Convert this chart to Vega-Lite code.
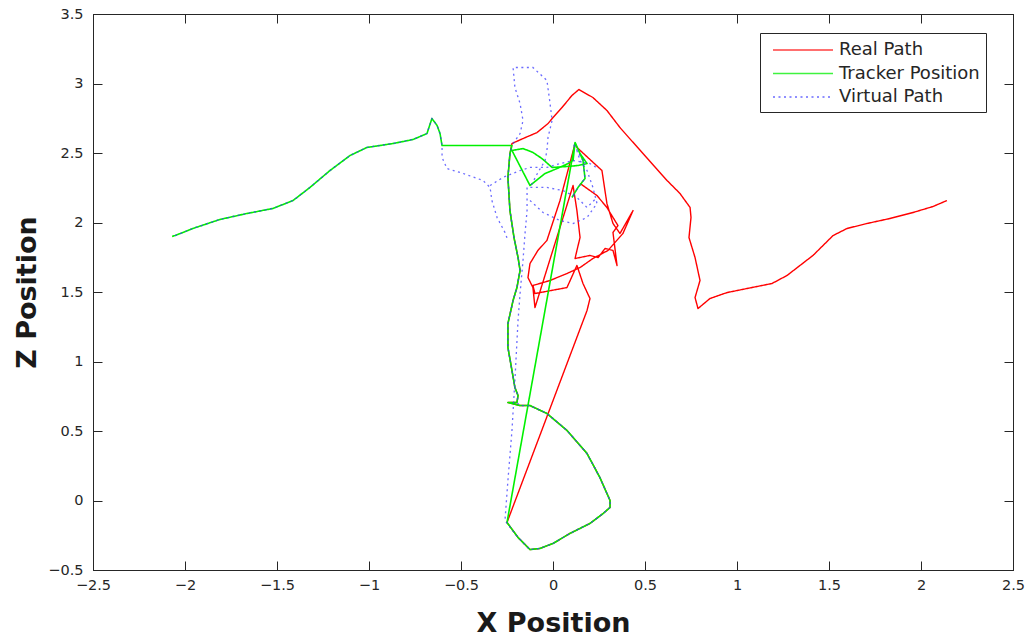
{
  "$schema": "https://vega.github.io/schema/vega-lite/v6.json",
  "width": 920,
  "height": 556,
  "autosize": {"type": "none"},
  "padding": {"left": 93, "top": 14, "right": 20, "bottom": 71},
  "background": "white",
  "config": {
    "view": {"stroke": "#262626", "strokeWidth": 1},
    "axis": {
      "grid": false,
      "domainColor": "#262626",
      "tickColor": "#262626",
      "tickSize": -9,
      "labelFont": "DejaVu Sans",
      "labelFontSize": 14.5,
      "labelColor": "#262626",
      "titleFont": "DejaVu Sans",
      "titleFontSize": 27,
      "titleFontWeight": "bold",
      "titleColor": "#1a1a1a"
    },
    "legend": {
      "orient": "none",
      "legendX": 667,
      "legendY": 19,
      "labelFont": "DejaVu Sans",
      "labelFontSize": 18,
      "labelColor": "#262626",
      "symbolType": "M-0.4,0H5.6",
      "symbolSize": 400,
      "symbolStrokeWidth": 1.5,
      "symbolFillColor": "transparent",
      "labelOffset": 51,
      "rowPadding": 3.5,
      "padding": 6,
      "fillColor": "white",
      "strokeColor": "#262626",
      "labelLimit": 400
    }
  },
  "data": {
    "values": [
      {"s":"Real Path","g":"r1","i":1,"x":2.141,"z":2.158},
      {"s":"Real Path","g":"r1","i":2,"x":2.065,"z":2.115},
      {"s":"Real Path","g":"r1","i":3,"x":1.957,"z":2.072},
      {"s":"Real Path","g":"r1","i":4,"x":1.832,"z":2.029},
      {"s":"Real Path","g":"r1","i":5,"x":1.707,"z":1.993},
      {"s":"Real Path","g":"r1","i":6,"x":1.598,"z":1.957},
      {"s":"Real Path","g":"r1","i":7,"x":1.522,"z":1.906},
      {"s":"Real Path","g":"r1","i":8,"x":1.413,"z":1.763},
      {"s":"Real Path","g":"r1","i":9,"x":1.272,"z":1.619},
      {"s":"Real Path","g":"r1","i":10,"x":1.190,"z":1.561},
      {"s":"Real Path","g":"r1","i":11,"x":1.054,"z":1.525},
      {"s":"Real Path","g":"r1","i":12,"x":0.946,"z":1.496},
      {"s":"Real Path","g":"r1","i":13,"x":0.853,"z":1.453},
      {"s":"Real Path","g":"r1","i":14,"x":0.788,"z":1.381},
      {"s":"Real Path","g":"r1","i":15,"x":0.772,"z":1.460},
      {"s":"Real Path","g":"r1","i":16,"x":0.799,"z":1.583},
      {"s":"Real Path","g":"r1","i":17,"x":0.772,"z":1.748},
      {"s":"Real Path","g":"r1","i":18,"x":0.739,"z":1.892},
      {"s":"Real Path","g":"r1","i":19,"x":0.750,"z":2.036},
      {"s":"Real Path","g":"r1","i":20,"x":0.745,"z":2.108},
      {"s":"Real Path","g":"r1","i":21,"x":0.690,"z":2.209},
      {"s":"Real Path","g":"r1","i":22,"x":0.620,"z":2.302},
      {"s":"Real Path","g":"r1","i":23,"x":0.489,"z":2.496},
      {"s":"Real Path","g":"r1","i":24,"x":0.364,"z":2.683},
      {"s":"Real Path","g":"r1","i":25,"x":0.293,"z":2.806},
      {"s":"Real Path","g":"r1","i":26,"x":0.217,"z":2.899},
      {"s":"Real Path","g":"r1","i":27,"x":0.141,"z":2.957},
      {"s":"Real Path","g":"r1","i":28,"x":0.103,"z":2.914},
      {"s":"Real Path","g":"r1","i":29,"x":0.049,"z":2.827},
      {"s":"Real Path","g":"r1","i":30,"x":0.000,"z":2.755},
      {"s":"Real Path","g":"r1","i":31,"x":-0.027,"z":2.712},
      {"s":"Real Path","g":"r1","i":32,"x":-0.087,"z":2.647},
      {"s":"Real Path","g":"r1","i":33,"x":-0.163,"z":2.604},
      {"s":"Real Path","g":"r1","i":34,"x":-0.223,"z":2.568},
      {"s":"Real Path","g":"r1","i":35,"x":-0.234,"z":2.496},
      {"s":"Real Path","g":"r1","i":36,"x":-0.245,"z":2.324},
      {"s":"Real Path","g":"r1","i":37,"x":-0.234,"z":2.086},
      {"s":"Real Path","g":"r1","i":38,"x":-0.212,"z":1.892},
      {"s":"Real Path","g":"r1","i":39,"x":-0.190,"z":1.748},
      {"s":"Real Path","g":"r1","i":40,"x":-0.179,"z":1.655},
      {"s":"Real Path","g":"r1","i":41,"x":-0.196,"z":1.532},
      {"s":"Real Path","g":"r1","i":42,"x":-0.217,"z":1.439},
      {"s":"Real Path","g":"r1","i":43,"x":-0.245,"z":1.273},
      {"s":"Real Path","g":"r1","i":44,"x":-0.245,"z":1.101},
      {"s":"Real Path","g":"r1","i":45,"x":-0.223,"z":0.935},
      {"s":"Real Path","g":"r1","i":46,"x":-0.207,"z":0.813},
      {"s":"Real Path","g":"r1","i":47,"x":-0.190,"z":0.755},
      {"s":"Real Path","g":"r1","i":48,"x":-0.196,"z":0.705},
      {"s":"Real Path","g":"r1","i":49,"x":-0.245,"z":0.705},
      {"s":"Real Path","g":"r1","i":50,"x":-0.179,"z":0.683},
      {"s":"Real Path","g":"r1","i":51,"x":-0.125,"z":0.683},
      {"s":"Real Path","g":"r1","i":52,"x":-0.033,"z":0.626},
      {"s":"Real Path","g":"r1","i":53,"x":0.076,"z":0.504},
      {"s":"Real Path","g":"r1","i":54,"x":0.185,"z":0.338},
      {"s":"Real Path","g":"r1","i":55,"x":0.255,"z":0.165},
      {"s":"Real Path","g":"r1","i":56,"x":0.310,"z":0.000},
      {"s":"Real Path","g":"r1","i":57,"x":0.310,"z":-0.050},
      {"s":"Real Path","g":"r1","i":58,"x":0.272,"z":-0.094},
      {"s":"Real Path","g":"r1","i":59,"x":0.201,"z":-0.165},
      {"s":"Real Path","g":"r1","i":60,"x":0.092,"z":-0.237},
      {"s":"Real Path","g":"r1","i":61,"x":0.000,"z":-0.309},
      {"s":"Real Path","g":"r1","i":62,"x":-0.071,"z":-0.345},
      {"s":"Real Path","g":"r1","i":63,"x":-0.125,"z":-0.353},
      {"s":"Real Path","g":"r1","i":64,"x":-0.190,"z":-0.266},
      {"s":"Real Path","g":"r1","i":65,"x":-0.250,"z":-0.158},
      {"s":"Real Path","g":"r1","i":66,"x":0.185,"z":1.367},
      {"s":"Real Path","g":"r1","i":67,"x":0.201,"z":1.453},
      {"s":"Real Path","g":"r1","i":68,"x":0.163,"z":1.561},
      {"s":"Real Path","g":"r1","i":69,"x":0.130,"z":1.691},
      {"s":"Real Path","g":"r1","i":70,"x":0.076,"z":1.532},
      {"s":"Real Path","g":"r1","i":71,"x":-0.098,"z":1.489},
      {"s":"Real Path","g":"r1","i":72,"x":-0.109,"z":1.547},
      {"s":"Real Path","g":"r1","i":73,"x":-0.016,"z":1.583},
      {"s":"Real Path","g":"r1","i":74,"x":0.076,"z":1.633},
      {"s":"Real Path","g":"r1","i":75,"x":0.147,"z":1.676},
      {"s":"Real Path","g":"r1","i":76,"x":0.217,"z":1.741},
      {"s":"Real Path","g":"r1","i":77,"x":0.299,"z":1.799},
      {"s":"Real Path","g":"r1","i":78,"x":0.380,"z":1.921},
      {"s":"Real Path","g":"r1","i":79,"x":0.435,"z":2.086},
      {"s":"Real Path","g":"r1","i":80,"x":0.364,"z":1.921},
      {"s":"Real Path","g":"r1","i":81,"x":0.326,"z":1.993},
      {"s":"Real Path","g":"r1","i":82,"x":0.293,"z":2.137},
      {"s":"Real Path","g":"r1","i":83,"x":0.266,"z":2.374},
      {"s":"Real Path","g":"r1","i":84,"x":0.130,"z":2.540},
      {"s":"Real Path","g":"r1","i":85,"x":0.120,"z":2.568},
      {"s":"Real Path","g":"r1","i":86,"x":0.038,"z":2.158},
      {"s":"Real Path","g":"r1","i":87,"x":-0.033,"z":1.871},
      {"s":"Real Path","g":"r1","i":88,"x":-0.082,"z":1.799},
      {"s":"Real Path","g":"r1","i":89,"x":-0.125,"z":1.705},
      {"s":"Real Path","g":"r1","i":90,"x":-0.136,"z":1.604},
      {"s":"Real Path","g":"r1","i":91,"x":-0.109,"z":1.532},
      {"s":"Real Path","g":"r1","i":92,"x":-0.098,"z":1.388},
      {"s":"Real Path","g":"r1","i":93,"x":0.109,"z":2.266},
      {"s":"Real Path","g":"r1","i":94,"x":0.130,"z":2.086},
      {"s":"Real Path","g":"r1","i":95,"x":0.147,"z":1.892},
      {"s":"Real Path","g":"r1","i":96,"x":0.130,"z":1.799},
      {"s":"Real Path","g":"r1","i":97,"x":0.120,"z":1.741},
      {"s":"Real Path","g":"r1","i":98,"x":0.201,"z":1.763},
      {"s":"Real Path","g":"r1","i":99,"x":0.245,"z":1.748},
      {"s":"Real Path","g":"r1","i":100,"x":0.283,"z":1.813},
      {"s":"Real Path","g":"r1","i":101,"x":0.326,"z":1.799},
      {"s":"Real Path","g":"r1","i":102,"x":0.348,"z":1.691},
      {"s":"Real Path","g":"r1","i":103,"x":0.326,"z":1.928},
      {"s":"Real Path","g":"r1","i":104,"x":0.353,"z":1.978},
      {"s":"Real Path","g":"r1","i":105,"x":0.293,"z":2.108},
      {"s":"Real Path","g":"r1","i":106,"x":0.239,"z":2.194},
      {"s":"Real Path","g":"r1","i":107,"x":0.147,"z":2.281},

      {"s":"Tracker Position","g":"t1","i":1,"x":-2.070,"z":1.900},
      {"s":"Tracker Position","g":"t1","i":2,"x":-2.054,"z":1.906},
      {"s":"Tracker Position","g":"t1","i":3,"x":-1.957,"z":1.957},
      {"s":"Tracker Position","g":"t1","i":4,"x":-1.810,"z":2.022},
      {"s":"Tracker Position","g":"t1","i":5,"x":-1.663,"z":2.065},
      {"s":"Tracker Position","g":"t1","i":6,"x":-1.522,"z":2.101},
      {"s":"Tracker Position","g":"t1","i":7,"x":-1.413,"z":2.158},
      {"s":"Tracker Position","g":"t1","i":8,"x":-1.321,"z":2.252},
      {"s":"Tracker Position","g":"t1","i":9,"x":-1.212,"z":2.374},
      {"s":"Tracker Position","g":"t1","i":10,"x":-1.103,"z":2.482},
      {"s":"Tracker Position","g":"t1","i":11,"x":-1.011,"z":2.540},
      {"s":"Tracker Position","g":"t1","i":12,"x":-0.870,"z":2.568},
      {"s":"Tracker Position","g":"t1","i":13,"x":-0.761,"z":2.597},
      {"s":"Tracker Position","g":"t1","i":14,"x":-0.685,"z":2.640},
      {"s":"Tracker Position","g":"t1","i":15,"x":-0.658,"z":2.748},
      {"s":"Tracker Position","g":"t1","i":16,"x":-0.630,"z":2.698},
      {"s":"Tracker Position","g":"t1","i":17,"x":-0.614,"z":2.640},
      {"s":"Tracker Position","g":"t1","i":18,"x":-0.603,"z":2.554},
      {"s":"Tracker Position","g":"t1","i":19,"x":-0.223,"z":2.554},
      {"s":"Tracker Position","g":"t1","i":20,"x":-0.234,"z":2.496},
      {"s":"Tracker Position","g":"t1","i":21,"x":-0.245,"z":2.324},
      {"s":"Tracker Position","g":"t1","i":22,"x":-0.234,"z":2.086},
      {"s":"Tracker Position","g":"t1","i":23,"x":-0.212,"z":1.892},
      {"s":"Tracker Position","g":"t1","i":24,"x":-0.190,"z":1.748},
      {"s":"Tracker Position","g":"t1","i":25,"x":-0.179,"z":1.655},
      {"s":"Tracker Position","g":"t1","i":26,"x":-0.196,"z":1.532},
      {"s":"Tracker Position","g":"t1","i":27,"x":-0.217,"z":1.439},
      {"s":"Tracker Position","g":"t1","i":28,"x":-0.245,"z":1.273},
      {"s":"Tracker Position","g":"t1","i":29,"x":-0.245,"z":1.101},
      {"s":"Tracker Position","g":"t1","i":30,"x":-0.223,"z":0.935},
      {"s":"Tracker Position","g":"t1","i":31,"x":-0.207,"z":0.813},
      {"s":"Tracker Position","g":"t1","i":32,"x":-0.190,"z":0.755},
      {"s":"Tracker Position","g":"t1","i":33,"x":-0.196,"z":0.705},
      {"s":"Tracker Position","g":"t1","i":34,"x":-0.245,"z":0.705},
      {"s":"Tracker Position","g":"t1","i":35,"x":-0.179,"z":0.683},
      {"s":"Tracker Position","g":"t1","i":36,"x":-0.125,"z":0.683},
      {"s":"Tracker Position","g":"t1","i":37,"x":-0.033,"z":0.626},
      {"s":"Tracker Position","g":"t1","i":38,"x":0.076,"z":0.504},
      {"s":"Tracker Position","g":"t1","i":39,"x":0.185,"z":0.338},
      {"s":"Tracker Position","g":"t1","i":40,"x":0.255,"z":0.165},
      {"s":"Tracker Position","g":"t1","i":41,"x":0.310,"z":0.000},
      {"s":"Tracker Position","g":"t1","i":42,"x":0.310,"z":-0.050},
      {"s":"Tracker Position","g":"t1","i":43,"x":0.272,"z":-0.094},
      {"s":"Tracker Position","g":"t1","i":44,"x":0.201,"z":-0.165},
      {"s":"Tracker Position","g":"t1","i":45,"x":0.092,"z":-0.237},
      {"s":"Tracker Position","g":"t1","i":46,"x":0.000,"z":-0.309},
      {"s":"Tracker Position","g":"t1","i":47,"x":-0.071,"z":-0.345},
      {"s":"Tracker Position","g":"t1","i":48,"x":-0.125,"z":-0.353},
      {"s":"Tracker Position","g":"t1","i":49,"x":-0.190,"z":-0.266},
      {"s":"Tracker Position","g":"t1","i":50,"x":-0.250,"z":-0.158},
      {"s":"Tracker Position","g":"t1","i":51,"x":0.120,"z":2.576},
      {"s":"Tracker Position","g":"t1","i":52,"x":0.147,"z":2.496},
      {"s":"Tracker Position","g":"t1","i":53,"x":0.185,"z":2.424},
      {"s":"Tracker Position","g":"t1","i":54,"x":0.136,"z":2.410},
      {"s":"Tracker Position","g":"t1","i":55,"x":0.076,"z":2.403},
      {"s":"Tracker Position","g":"t1","i":56,"x":-0.005,"z":2.396},
      {"s":"Tracker Position","g":"t1","i":57,"x":-0.060,"z":2.460},
      {"s":"Tracker Position","g":"t1","i":58,"x":-0.109,"z":2.504},
      {"s":"Tracker Position","g":"t1","i":59,"x":-0.163,"z":2.532},
      {"s":"Tracker Position","g":"t1","i":60,"x":-0.223,"z":2.518},
      {"s":"Tracker Position","g":"t1","i":61,"x":-0.125,"z":2.266},
      {"s":"Tracker Position","g":"t1","i":62,"x":-0.043,"z":2.353},
      {"s":"Tracker Position","g":"t1","i":63,"x":0.022,"z":2.388},
      {"s":"Tracker Position","g":"t1","i":64,"x":0.082,"z":2.424},
      {"s":"Tracker Position","g":"t1","i":65,"x":0.109,"z":2.446},
      {"s":"Tracker Position","g":"t1","i":66,"x":0.120,"z":2.576},
      {"s":"Tracker Position","g":"t1","i":67,"x":0.163,"z":2.446},
      {"s":"Tracker Position","g":"t1","i":68,"x":0.174,"z":2.317},
      {"s":"Tracker Position","g":"t1","i":69,"x":0.136,"z":2.252},
      {"s":"Tracker Position","g":"t1","i":70,"x":0.103,"z":2.180},

      {"s":"Virtual Path","g":"b1","i":1,"x":-2.054,"z":1.906},
      {"s":"Virtual Path","g":"b1","i":2,"x":-1.957,"z":1.957},
      {"s":"Virtual Path","g":"b1","i":3,"x":-1.810,"z":2.022},
      {"s":"Virtual Path","g":"b1","i":4,"x":-1.663,"z":2.065},
      {"s":"Virtual Path","g":"b1","i":5,"x":-1.522,"z":2.101},
      {"s":"Virtual Path","g":"b1","i":6,"x":-1.413,"z":2.158},
      {"s":"Virtual Path","g":"b1","i":7,"x":-1.321,"z":2.252},
      {"s":"Virtual Path","g":"b1","i":8,"x":-1.212,"z":2.374},
      {"s":"Virtual Path","g":"b1","i":9,"x":-1.103,"z":2.482},
      {"s":"Virtual Path","g":"b1","i":10,"x":-1.011,"z":2.540},
      {"s":"Virtual Path","g":"b1","i":11,"x":-0.870,"z":2.568},
      {"s":"Virtual Path","g":"b1","i":12,"x":-0.761,"z":2.597},
      {"s":"Virtual Path","g":"b1","i":13,"x":-0.685,"z":2.640},
      {"s":"Virtual Path","g":"b1","i":14,"x":-0.658,"z":2.748},
      {"s":"Virtual Path","g":"b1","i":15,"x":-0.630,"z":2.698},
      {"s":"Virtual Path","g":"b1","i":16,"x":-0.614,"z":2.640},
      {"s":"Virtual Path","g":"b1","i":17,"x":-0.603,"z":2.554},
      {"s":"Virtual Path","g":"b1","i":18,"x":-0.603,"z":2.468},
      {"s":"Virtual Path","g":"b1","i":19,"x":-0.576,"z":2.388},
      {"s":"Virtual Path","g":"b1","i":20,"x":-0.489,"z":2.353},
      {"s":"Virtual Path","g":"b1","i":21,"x":-0.380,"z":2.302},
      {"s":"Virtual Path","g":"b1","i":22,"x":-0.342,"z":2.252},
      {"s":"Virtual Path","g":"b1","i":23,"x":-0.332,"z":2.158},
      {"s":"Virtual Path","g":"b1","i":24,"x":-0.304,"z":2.036},
      {"s":"Virtual Path","g":"b1","i":25,"x":-0.261,"z":1.928},
      {"s":"Virtual Path","g":"b1","i":26,"x":-0.245,"z":1.871},
      {"s":"Virtual Path","g":"b2","i":1,"x":-0.342,"z":2.266},
      {"s":"Virtual Path","g":"b2","i":2,"x":-0.272,"z":2.324},
      {"s":"Virtual Path","g":"b2","i":3,"x":-0.179,"z":2.374},
      {"s":"Virtual Path","g":"b2","i":4,"x":-0.125,"z":2.396},
      {"s":"Virtual Path","g":"b2","i":5,"x":-0.033,"z":2.396},
      {"s":"Virtual Path","g":"b2","i":6,"x":0.038,"z":2.424},
      {"s":"Virtual Path","g":"b2","i":7,"x":0.109,"z":2.446},
      {"s":"Virtual Path","g":"b2","i":8,"x":0.201,"z":2.424},
      {"s":"Virtual Path","g":"b2","i":9,"x":0.245,"z":2.388},
      {"s":"Virtual Path","g":"b3","i":1,"x":-0.217,"z":2.568},
      {"s":"Virtual Path","g":"b3","i":2,"x":-0.179,"z":2.640},
      {"s":"Virtual Path","g":"b3","i":3,"x":-0.163,"z":2.734},
      {"s":"Virtual Path","g":"b3","i":4,"x":-0.179,"z":2.856},
      {"s":"Virtual Path","g":"b3","i":5,"x":-0.207,"z":2.971},
      {"s":"Virtual Path","g":"b3","i":6,"x":-0.217,"z":3.115},
      {"s":"Virtual Path","g":"b3","i":7,"x":-0.109,"z":3.115},
      {"s":"Virtual Path","g":"b3","i":8,"x":-0.033,"z":3.022},
      {"s":"Virtual Path","g":"b3","i":9,"x":-0.016,"z":2.856},
      {"s":"Virtual Path","g":"b3","i":10,"x":-0.005,"z":2.734},
      {"s":"Virtual Path","g":"b3","i":11,"x":-0.027,"z":2.612},
      {"s":"Virtual Path","g":"b3","i":12,"x":-0.033,"z":2.518},
      {"s":"Virtual Path","g":"b3","i":13,"x":-0.043,"z":2.446},
      {"s":"Virtual Path","g":"b3","i":14,"x":-0.082,"z":2.360},
      {"s":"Virtual Path","g":"b3","i":15,"x":-0.125,"z":2.252},
      {"s":"Virtual Path","g":"b3","i":16,"x":-0.033,"z":2.252},
      {"s":"Virtual Path","g":"b3","i":17,"x":0.054,"z":2.230},
      {"s":"Virtual Path","g":"b3","i":18,"x":0.130,"z":2.180},
      {"s":"Virtual Path","g":"b3","i":19,"x":0.185,"z":2.108},
      {"s":"Virtual Path","g":"b3","i":20,"x":0.239,"z":2.180},
      {"s":"Virtual Path","g":"b4","i":1,"x":-0.141,"z":2.252},
      {"s":"Virtual Path","g":"b4","i":2,"x":-0.141,"z":2.086},
      {"s":"Virtual Path","g":"b4","i":3,"x":-0.152,"z":1.921},
      {"s":"Virtual Path","g":"b4","i":4,"x":-0.163,"z":1.727},
      {"s":"Virtual Path","g":"b4","i":5,"x":-0.179,"z":1.489},
      {"s":"Virtual Path","g":"b4","i":6,"x":-0.190,"z":1.295},
      {"s":"Virtual Path","g":"b4","i":7,"x":-0.207,"z":0.863},
      {"s":"Virtual Path","g":"b4","i":8,"x":-0.223,"z":0.504},
      {"s":"Virtual Path","g":"b4","i":9,"x":-0.245,"z":0.144},
      {"s":"Virtual Path","g":"b4","i":10,"x":-0.261,"z":-0.144},
      {"s":"Virtual Path","g":"b4","i":11,"x":-0.190,"z":-0.266},
      {"s":"Virtual Path","g":"b4","i":12,"x":-0.125,"z":-0.353},
      {"s":"Virtual Path","g":"b4","i":13,"x":-0.071,"z":-0.345},
      {"s":"Virtual Path","g":"b4","i":14,"x":0.000,"z":-0.309},
      {"s":"Virtual Path","g":"b4","i":15,"x":0.092,"z":-0.237},
      {"s":"Virtual Path","g":"b4","i":16,"x":0.201,"z":-0.165},
      {"s":"Virtual Path","g":"b4","i":17,"x":0.272,"z":-0.094},
      {"s":"Virtual Path","g":"b4","i":18,"x":0.310,"z":-0.050},
      {"s":"Virtual Path","g":"b4","i":19,"x":0.310,"z":0.000},
      {"s":"Virtual Path","g":"b4","i":20,"x":0.255,"z":0.165},
      {"s":"Virtual Path","g":"b4","i":21,"x":0.185,"z":0.338},
      {"s":"Virtual Path","g":"b4","i":22,"x":0.076,"z":0.504},
      {"s":"Virtual Path","g":"b4","i":23,"x":-0.033,"z":0.626},
      {"s":"Virtual Path","g":"b4","i":24,"x":-0.125,"z":0.683},
      {"s":"Virtual Path","g":"b4","i":25,"x":-0.179,"z":0.683},
      {"s":"Virtual Path","g":"b4","i":26,"x":-0.196,"z":0.705},
      {"s":"Virtual Path","g":"b4","i":27,"x":-0.190,"z":0.755},
      {"s":"Virtual Path","g":"b4","i":28,"x":-0.207,"z":0.813},
      {"s":"Virtual Path","g":"b4","i":29,"x":-0.223,"z":0.935},
      {"s":"Virtual Path","g":"b4","i":30,"x":-0.245,"z":1.101},
      {"s":"Virtual Path","g":"b4","i":31,"x":-0.245,"z":1.273},
      {"s":"Virtual Path","g":"b4","i":32,"x":-0.217,"z":1.439},
      {"s":"Virtual Path","g":"b4","i":33,"x":-0.196,"z":1.532},
      {"s":"Virtual Path","g":"b4","i":34,"x":-0.179,"z":1.655},
      {"s":"Virtual Path","g":"b4","i":35,"x":-0.190,"z":1.748},
      {"s":"Virtual Path","g":"b4","i":36,"x":-0.212,"z":1.892},
      {"s":"Virtual Path","g":"b4","i":37,"x":-0.234,"z":2.086},
      {"s":"Virtual Path","g":"b4","i":38,"x":-0.245,"z":2.324},
      {"s":"Virtual Path","g":"b4","i":39,"x":-0.234,"z":2.496},
      {"s":"Virtual Path","g":"b4","i":40,"x":-0.223,"z":2.554},
      {"s":"Virtual Path","g":"b5","i":1,"x":-0.125,"z":2.158},
      {"s":"Virtual Path","g":"b5","i":2,"x":-0.054,"z":2.072},
      {"s":"Virtual Path","g":"b5","i":3,"x":0.038,"z":2.014},
      {"s":"Virtual Path","g":"b5","i":4,"x":0.109,"z":1.993},
      {"s":"Virtual Path","g":"b5","i":5,"x":0.185,"z":2.036},
      {"s":"Virtual Path","g":"b5","i":6,"x":0.239,"z":2.137},
      {"s":"Virtual Path","g":"b5","i":7,"x":0.217,"z":2.252},
      {"s":"Virtual Path","g":"b5","i":8,"x":0.185,"z":2.374},
      {"s":"Virtual Path","g":"b5","i":9,"x":0.147,"z":2.446},
      {"s":"Virtual Path","g":"b5","i":10,"x":0.130,"z":2.518},
      {"s":"Virtual Path","g":"b5","i":11,"x":0.109,"z":2.568},
      {"s":"Virtual Path","g":"b5","i":12,"x":0.163,"z":2.446},
      {"s":"Virtual Path","g":"b5","i":13,"x":0.174,"z":2.317},
      {"s":"Virtual Path","g":"b5","i":14,"x":0.136,"z":2.252},
      {"s":"Virtual Path","g":"b5","i":15,"x":0.103,"z":2.180}
    ]
  },
  "layer": [
    {
      "transform": [{"filter": "datum.s === 'Real Path'"}],
      "mark": {"type": "line", "strokeWidth": 1.4, "strokeJoin": "round"},
      "encoding": {
        "x": {"field": "x", "type": "quantitative",
              "scale": {"domain": [-2.5, 2.5], "nice": false, "zero": false},
              "axis": {"orient": "bottom", "title": "X Position", "values": [-2.5,-2,-1.5,-1,-0.5,0,0.5,1,1.5,2,2.5], "labelPadding": 17, "titlePadding": 19, "labelFlush": false, "format": "~g"}},
        "y": {"field": "z", "type": "quantitative",
              "scale": {"domain": [-0.5, 3.5], "nice": false, "zero": false},
              "axis": {"orient": "left", "title": "Z Position", "values": [-0.5,0,0.5,1,1.5,2,2.5,3,3.5], "labelPadding": 19, "titlePadding": 6, "labelFlush": false, "format": "~g"}},
        "color": {"field": "s", "type": "nominal",
                  "scale": {"domain": ["Real Path", "Tracker Position", "Virtual Path"], "range": ["#ff0000", "#00f000", "#3a3aff"]},
                  "legend": {"title": null}},
        "strokeDash": {"field": "s", "type": "nominal",
                       "scale": {"domain": ["Real Path", "Tracker Position", "Virtual Path"], "range": [[1, 0], [1, 0], [2, 3.5]]},
                       "legend": {"title": null}},
        "detail": {"field": "g"},
        "order": {"field": "i", "type": "quantitative"}
      }
    },
    {
      "transform": [{"filter": "datum.s === 'Tracker Position'"}],
      "mark": {"type": "line", "strokeWidth": 1.6, "strokeJoin": "round"},
      "encoding": {
        "x": {"field": "x", "type": "quantitative", "scale": {"domain": [-2.5, 2.5], "nice": false, "zero": false},
              "axis": {"orient": "top", "title": null, "labels": false, "values": [-2.5,-2,-1.5,-1,-0.5,0,0.5,1,1.5,2,2.5]}},
        "y": {"field": "z", "type": "quantitative", "scale": {"domain": [-0.5, 3.5], "nice": false, "zero": false},
              "axis": {"orient": "right", "title": null, "labels": false, "values": [-0.5,0,0.5,1,1.5,2,2.5,3,3.5]}},
        "color": {"field": "s", "type": "nominal", "legend": {"title": null}},
        "strokeDash": {"field": "s", "type": "nominal", "legend": {"title": null}},
        "detail": {"field": "g"},
        "order": {"field": "i", "type": "quantitative"}
      }
    },
    {
      "transform": [{"filter": "datum.s === 'Virtual Path'"}],
      "mark": {"type": "line", "strokeWidth": 1.3, "opacity": 0.75},
      "encoding": {
        "x": {"field": "x", "type": "quantitative", "scale": {"domain": [-2.5, 2.5], "nice": false, "zero": false}, "axis": null},
        "y": {"field": "z", "type": "quantitative", "scale": {"domain": [-0.5, 3.5], "nice": false, "zero": false}, "axis": null},
        "color": {"field": "s", "type": "nominal", "legend": {"title": null}},
        "strokeDash": {"field": "s", "type": "nominal", "legend": {"title": null}},
        "detail": {"field": "g"},
        "order": {"field": "i", "type": "quantitative"}
      }
    }
  ],
  "resolve": {"axis": {"x": "independent", "y": "independent"}}
}
